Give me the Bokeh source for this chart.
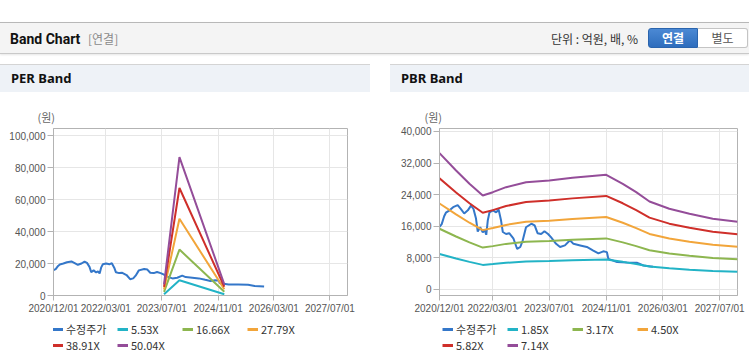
from datetime import datetime
import pandas as pd
from bokeh.plotting import figure
from bokeh.models import (Range1d, FixedTicker, DatetimeTickFormatter, NumeralTickFormatter,
                          Legend, LegendItem, Div, Spacer)
from bokeh.layouts import column, row
from bokeh.embed import file_html
from bokeh.resources import INLINE

# ---------------- data ----------------
price_dates = ["2020-12-01", "2020-12-20", "2021-01-10", "2021-01-25", "2021-02-25", "2021-03-28",
               "2021-05-06", "2021-06-03", "2021-07-01", "2021-08-01", "2021-08-28", "2021-09-18",
               "2021-10-10", "2021-10-25", "2021-11-15", "2021-12-07", "2021-12-22", "2022-01-06",
               "2022-01-19", "2022-02-03", "2022-03-04", "2022-04-01", "2022-04-22", "2022-05-13",
               "2022-05-28", "2022-06-25", "2022-07-22", "2022-08-28", "2022-09-28", "2022-10-25",
               "2022-11-15", "2022-12-13", "2023-01-28", "2023-02-25", "2023-03-22", "2023-04-22",
               "2023-05-20", "2023-06-20", "2023-07-15", "2023-08-28", "2023-10-01", "2023-11-12",
               "2023-12-25", "2024-01-24", "2024-03-22", "2024-05-18", "2024-07-12", "2024-08-25",
               "2024-10-06", "2024-11-06", "2024-11-18", "2025-02-01", "2025-04-25", "2025-07-20",
               "2025-09-15", "2025-12-06"]
price = [15800, 16500, 18500, 19400, 20000, 20800,
         21300, 20300, 19200, 20000, 21200, 20400,
         17900, 14600, 15700, 14400, 15100, 13800,
         17400, 19500, 20000, 19500, 20200, 17400,
         14500, 14000, 14200, 12800, 10200, 10700,
         12400, 15700, 16600, 16200, 14200, 14000,
         14700, 14000, 13200, 11500, 10700, 11100,
         12400, 11500, 11100, 10700, 9800, 9100,
         9600, 9400, 7700, 6900, 6800, 6700,
         6000, 5700]

per_dates = ["2023-07-20", "2023-12-01", "2024-12-25"]
per_553 = [760, 9500, 770]
per_1666 = [2300, 28700, 2330]
per_2779 = [3840, 48000, 3890]
per_3891 = [5370, 67200, 5450]
per_5004 = [6900, 86500, 7000]

pbr_dates = ["2020-12-01", "2021-04-22", "2021-08-15", "2021-12-07", "2022-03-04", "2022-06-25",
             "2022-12-13", "2023-07-01", "2024-01-15", "2024-10-31", "2025-03-22", "2025-07-15",
             "2025-11-06", "2026-04-25", "2026-10-15", "2027-05-03", "2027-12-01"]
pbr_185 = [8940, 7800, 6930, 6160, 6370, 6700, 7030, 7140, 7320, 7520, 6930, 6370, 5770, 5280, 4950, 4630, 4430]
pbr_317 = [15320, 13370, 11870, 10550, 10920, 11490, 12050, 12240, 12540, 12880, 11870, 10920, 9880, 9050, 8490, 7930, 7590]
pbr_450 = [21740, 18970, 16850, 14980, 15500, 16300, 17110, 17380, 17810, 18290, 16850, 15500, 14020, 12850, 12050, 11260, 10780]
pbr_582 = [28120, 24540, 21790, 19380, 20050, 21090, 22120, 22470, 23030, 23650, 21790, 20050, 18140, 16620, 15590, 14560, 13940]
pbr_714 = [34500, 30100, 26730, 23770, 24600, 25870, 27140, 27570, 28250, 29020, 26730, 24600, 22250, 20390, 19120, 17860, 17100]

x_tick_dates = ["2020-12-01", "2022-03-01", "2023-07-01", "2024-11-01", "2026-03-01", "2027-07-01"]
per_yticks = [0, 20000, 40000, 60000, 80000, 100000]
pbr_yticks = [0, 8000, 16000, 24000, 32000, 40000]

per_names = ["수정주가", "5.53X", "16.66X", "27.79X", "38.91X", "50.04X"]
pbr_names = ["수정주가", "1.85X", "3.17X", "4.50X", "5.82X", "7.14X"]
colors = ["#3477c9", "#22b3c6", "#8db64f", "#f2a53a", "#cf2f2a", "#944d99"]

# ---------------- helpers ----------------
EPOCH = datetime(1970, 1, 1)


def ms(s):
    return (datetime.strptime(s, "%Y-%m-%d") - EPOCH).total_seconds() * 1000.0


def dts(lst):
    return pd.to_datetime(lst)


TICK_FONT = "Liberation Sans"
KR_FONT = "Noto Sans CJK KR"
GRID = "#e6e6e6"
FRAME = "#b3b3b3"


def make_chart(width, left, right, yr, yticks, series, label_off):
    p = figure(width=width, height=225, x_axis_type="datetime", output_backend="svg",
               toolbar_location=None,
               x_range=Range1d(datetime(2020, 12, 1), datetime(2027, 12, 1)),
               y_range=Range1d(*yr),
               min_border_left=left, min_border_right=right, min_border_top=36, min_border_bottom=22)
    p.background_fill_color = "white"
    p.border_fill_color = "white"
    p.outline_line_color = FRAME
    p.outline_line_width = 1

    # "(원)" unit caption above the y axis
    p.title.text = "(원)"
    p.title.align = "left"
    p.title.offset = label_off
    p.title.standoff = 8
    p.title.text_font = KR_FONT
    p.title.text_font_size = "11px"
    p.title.text_font_style = "normal"
    p.title.text_color = "#666666"

    p.xaxis.ticker = FixedTicker(ticks=[ms(d) for d in x_tick_dates])
    fmt = "%Y/%m/%d"
    p.xaxis.formatter = DatetimeTickFormatter(days=fmt, months=fmt, years=fmt, hours=fmt,
                                              minutes=fmt, seconds=fmt, milliseconds=fmt,
                                              minsec=fmt, hourmin=fmt)
    p.yaxis.ticker = FixedTicker(ticks=yticks)
    p.yaxis.formatter = NumeralTickFormatter(format="0,0")
    for ax in (p.xaxis, p.yaxis):
        ax.axis_line_color = FRAME
        ax.major_tick_line_color = FRAME
        ax.minor_tick_line_color = None
        ax.major_tick_in = 0
        ax.major_label_text_font = TICK_FONT
        ax.major_label_text_font_size = "10px"
        ax.major_label_text_color = "#555555"
        ax.major_label_standoff = 2
    p.xaxis.major_tick_out = 5
    p.yaxis.major_tick_out = 6
    p.xgrid.grid_line_color = GRID
    p.ygrid.grid_line_color = GRID

    for (xs, ys), c in zip(series, colors):
        p.line(x=dts(xs), y=ys, line_color=c, line_width=2)
    return p


def make_legend(width, names, series, lx):
    # a strip below the chart that only carries the legend; the series are
    # drawn again here but lie outside this strip's ranges, so only the legend shows
    lf = figure(width=width, height=46, output_backend="svg", toolbar_location=None,
                x_axis_location=None, y_axis_location=None, title=None,
                x_range=Range1d(0, 1), y_range=Range1d(0, 1), min_border=0)
    lf.outline_line_color = None
    lf.background_fill_color = "white"
    lf.border_fill_color = "white"
    lf.grid.visible = False
    items = []
    for (xs, ys), name, c in zip(series, names, colors):
        r = lf.line(x=dts(xs), y=ys, line_color=c, line_width=3)
        items.append(LegendItem(label=name, renderers=[r]))
    legend = Legend(items=items, location=(lx, 10), orientation="horizontal", ncols=4,
                    glyph_width=11, glyph_height=14, label_height=14, label_width=51,
                    label_standoff=3, spacing=0, padding=0, margin=0,
                    border_line_color=None, background_fill_alpha=0,
                    label_text_font=KR_FONT, label_text_font_size="11px",
                    label_text_color="#333333", label_text_baseline="middle")
    lf.add_layout(legend)
    return lf


per_series = [(price_dates, price), (per_dates, per_553), (per_dates, per_1666),
              (per_dates, per_2779), (per_dates, per_3891), (per_dates, per_5004)]
pbr_series = [(price_dates, price), (pbr_dates, pbr_185), (pbr_dates, pbr_317),
              (pbr_dates, pbr_450), (pbr_dates, pbr_582), (pbr_dates, pbr_714)]

per_fig = make_chart(370, 53, 23, (0, 104400), per_yticks, per_series, -16)
pbr_fig = make_chart(359, 49, 12, (-1600, 40750), pbr_yticks, pbr_series, -15)
per_leg = make_legend(370, per_names, per_series, -1)
pbr_leg = make_legend(359, pbr_names, pbr_series, 3)

header_html = f"""
<div style="position:relative;width:749px;height:64px;background:#fff;overflow:hidden;">
 <div style="position:absolute;left:0;top:22px;width:749px;height:32px;box-sizing:border-box;background:#f4f4f4;border-top:1px solid #b8b8b8;border-bottom:1px solid #c9c9c9;box-shadow:0 1px 2px rgba(0,0,0,0.10);"></div>
 <div style="position:absolute;left:10px;top:29px;font-family:Roboto;font-weight:bold;font-size:14px;color:#111;line-height:20px;white-space:nowrap;">Band Chart</div>
 <div style="position:absolute;left:88px;top:29px;font-family:'{KR_FONT}';font-size:12px;color:#8a8a8a;line-height:20px;white-space:nowrap;">[연결]</div>
 <div style="position:absolute;left:551px;top:29px;font-family:'{KR_FONT}';font-size:12px;color:#333;line-height:20px;white-space:nowrap;">단위 : 억원, 배, %</div>
 <div style="position:absolute;left:648px;top:28px;width:50px;height:20px;box-sizing:border-box;background:linear-gradient(#4b89d4,#2e6dbd);border:1px solid #2a64ad;border-radius:3px 0 0 3px;color:#fff;font-family:'{KR_FONT}';font-weight:bold;font-size:12px;text-align:center;line-height:18px;">연결</div>
 <div style="position:absolute;left:698px;top:28px;width:50px;height:20px;box-sizing:border-box;background:#fff;border:1px solid #c4c4c4;border-left:none;border-radius:0 3px 3px 0;color:#555;font-family:'{KR_FONT}';font-size:12px;text-align:center;line-height:18px;">별도</div>
</div>
"""


def panel_head(title, w):
    return Div(text=f"""<div style="box-sizing:border-box;width:{w}px;height:28px;border-top:1px solid #d4d4d4;background:#eef2f7;padding-left:11px;font-family:'Noto Sans';font-weight:bold;font-size:13px;line-height:27px;color:#111;white-space:nowrap;">{title}</div>""",
               width=w, height=28, margin=0)


def panel_foot(w):
    return Div(text=f"""<div style="width:{w}px;height:1px;background:#d6d6d6;"></div>""",
               width=w, height=1, margin=0)


header = Div(text=header_html, width=749, height=64, margin=0)
per_col = column(panel_head("PER Band", 370), per_fig, per_leg, panel_foot(370), spacing=0, margin=0)
pbr_col = column(panel_head("PBR Band", 359), pbr_fig, pbr_leg, panel_foot(359), spacing=0, margin=0)
body = row(per_col, Spacer(width=20, height=300, margin=0), pbr_col, spacing=0, margin=0)
root = column(header, body, spacing=0, margin=0)

open("out.html", "w").write(file_html(root, INLINE))
